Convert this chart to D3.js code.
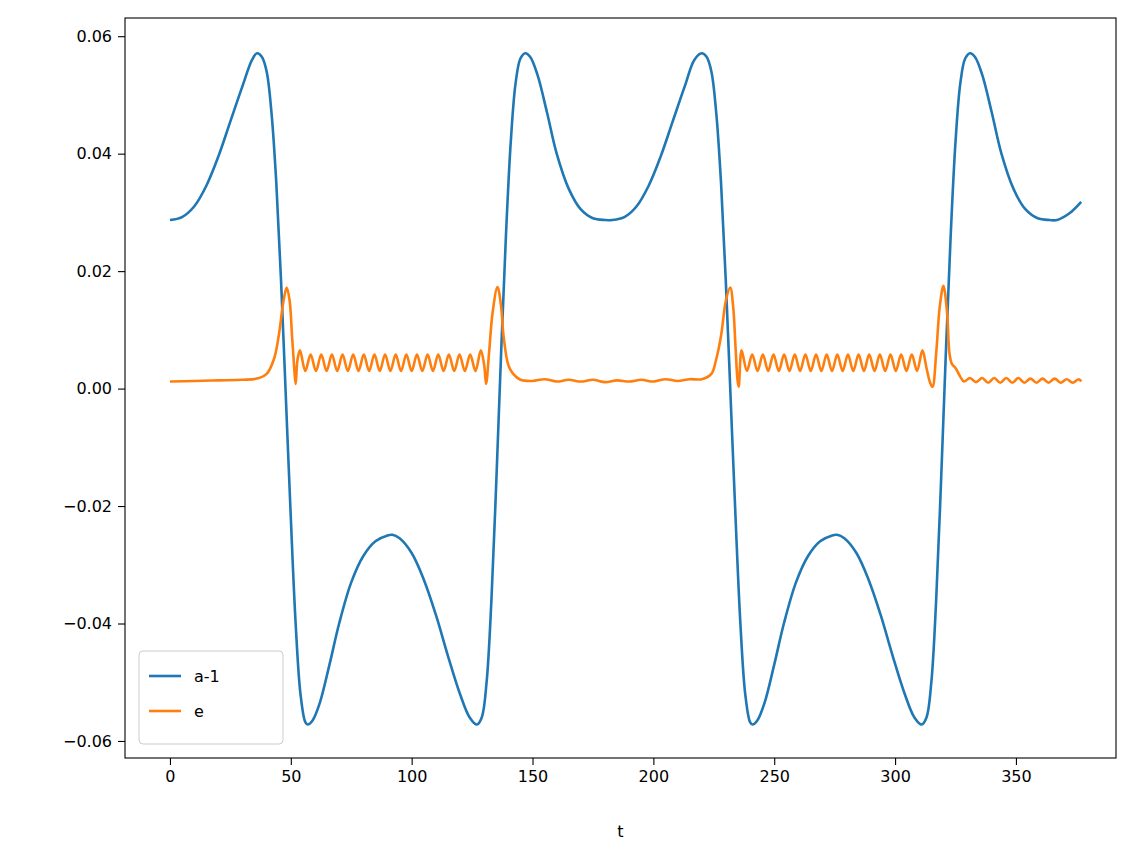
<!DOCTYPE html>
<html><head><meta charset="utf-8">
<script src="https://cdn.jsdelivr.net/npm/d3@7"></script>
<style>body{margin:0;background:#fff}text{font-family:"DejaVu Sans",sans-serif}</style>
</head><body><svg id="c" width="1136" height="865"></svg>
<script>
const xTicks=[0,50,100,150,200,250,300,350];
const yTicks=[-0.06,-0.04,-0.02,0,0.02,0.04,0.06];
const seriesNames=["a-1","e"];
const aT=[0,5,10,15,20,25,30,34,36,38,40,42,44,46,48,50,52,54,56,57,59,62,66,70,75,80,85,90,92,95,100,105,110,115,120,124,127,129,131,133,135,137,139,141,143,145,147,149,152,156,160,165,170,175,180,183,188,193,198,203,208,213,217,220,222,224,226,228,230,232,234,236,238,240,241,243,246,250,254,259,264,269,274,276,279,284,289,294,299,304,308,311,313,315,317,319,321,323,325,327,329,331,333,336,340,344,349,354,359,364,367,372,377];
const aV=[0.0287,0.0292,0.031,0.0345,0.0395,0.0455,0.0515,0.056,0.0571,0.0565,0.054,0.047,0.035,0.018,-0.002,-0.022,-0.040,-0.052,-0.0568,-0.0572,-0.0565,-0.0535,-0.047,-0.040,-0.033,-0.0285,-0.026,-0.025,-0.0249,-0.0255,-0.028,-0.0325,-0.0385,-0.0455,-0.052,-0.056,-0.0572,-0.056,-0.050,-0.036,-0.016,0.006,0.026,0.042,0.052,0.0562,0.0571,0.0565,0.0535,0.047,0.040,0.034,0.0305,0.029,0.0287,0.0287,0.0292,0.031,0.0345,0.0395,0.0455,0.0515,0.056,0.0571,0.0565,0.054,0.047,0.035,0.018,-0.002,-0.022,-0.040,-0.052,-0.0568,-0.0572,-0.0565,-0.0535,-0.047,-0.040,-0.033,-0.0285,-0.026,-0.025,-0.0249,-0.0255,-0.028,-0.0325,-0.0385,-0.0455,-0.052,-0.056,-0.0572,-0.056,-0.050,-0.036,-0.016,0.006,0.026,0.042,0.052,0.0562,0.0571,0.0565,0.0535,0.047,0.040,0.034,0.0305,0.029,0.0287,0.0287,0.0298,0.0318];
const ePts=[[0,0.0012],[10,0.0013],[20,0.0014],[30,0.0015],[36,0.0017],[40,0.0025],[43,0.005],[45,0.009],[47,0.015],[48.3,0.0172],[49.5,0.015],[50.5,0.009],[51.5,0.003],[52,0.0008],[52.8,0.005],[53.8,0.0065],[56,0.003],[58.2,0.0058],[60.4,0.003],[62.6,0.0058],[64.8,0.003],[67,0.0058],[69.2,0.003],[71.4,0.0058],[73.6,0.003],[75.8,0.0058],[78,0.003],[80.2,0.0058],[82.4,0.003],[84.6,0.0058],[86.8,0.003],[89,0.0058],[91.2,0.003],[93.4,0.0058],[95.6,0.003],[97.8,0.0058],[100,0.003],[102.2,0.0058],[104.4,0.003],[106.6,0.0058],[108.8,0.003],[111,0.0058],[113.2,0.003],[115.4,0.0058],[117.6,0.003],[119.8,0.0058],[122,0.003],[124.2,0.0058],[126.4,0.003],[128.6,0.0065],[130,0.004],[130.8,0.0008],[132,0.006],[133.5,0.013],[135.5,0.0173],[137,0.014],[138,0.009],[140,0.004],[142,0.0025],[145,0.0015],[150,0.0013],[155,0.0016],[160,0.0012],[165,0.0015],[170,0.0012],[175,0.0015],[180,0.0011],[185,0.0014],[190,0.0012],[195,0.0015],[200,0.0012],[205,0.0016],[210,0.0013],[215,0.0016],[220,0.0016],[224,0.0025],[226,0.005],[228,0.009],[230,0.015],[231.8,0.0172],[233,0.014],[234,0.007],[234.8,0.0015],[235.3,0.0003],[236.5,0.0065],[238.7,0.003],[240.9,0.0058],[243.1,0.003],[245.3,0.0058],[247.5,0.003],[249.7,0.0058],[251.9,0.003],[254.1,0.0058],[256.3,0.003],[258.5,0.0058],[260.7,0.003],[262.9,0.0058],[265.1,0.003],[267.3,0.0058],[269.5,0.003],[271.7,0.0058],[273.9,0.003],[276.1,0.0058],[278.3,0.003],[280.5,0.0058],[282.7,0.003],[284.9,0.0058],[287.1,0.003],[289.3,0.0058],[291.5,0.003],[293.7,0.0058],[295.9,0.003],[298.1,0.0058],[300.3,0.003],[302.5,0.0058],[304.7,0.003],[306.9,0.0058],[309.1,0.003],[311.3,0.0065],[313,0.0035],[314.5,0.001],[315.5,0.0003],[317,0.006],[318.5,0.014],[320,0.0175],[321.5,0.013],[322.5,0.006],[323.5,0.0042],[325,0.0035],[327,0.002],[328.5,0.0012],[331,0.0018],[333.5,0.0011],[336,0.0018],[338.5,0.001],[341,0.0018],[343.5,0.001],[346,0.0018],[348.5,0.001],[351,0.0018],[353.5,0.001],[356,0.0017],[358.5,0.001],[361,0.0017],[363.5,0.001],[366,0.0017],[368.5,0.001],[371,0.0016],[373.5,0.001],[376,0.0016],[377,0.0012]];
const svg=d3.select("#c");
const L=125,R=1116,T=18,B=758;
const x=d3.scaleLinear().domain([-18.6,391.4]).range([L,R]);
const y=d3.scaleLinear().domain([-0.0629,0.0631]).range([B,T]);
const fmt=d=>(d<0?"\u2212":"")+Math.abs(d).toFixed(2);
const xa=svg.append("g").attr("transform",`translate(0,${B})`).call(d3.axisBottom(x).tickValues(xTicks).tickSize(7).tickPadding(6).tickFormat(d3.format("d")));
const ya=svg.append("g").attr("transform",`translate(${L},0)`).call(d3.axisLeft(y).tickValues(yTicks).tickSize(7).tickPadding(6).tickFormat(fmt));
[xa,ya].forEach(a=>{a.attr("font-size",null).attr("font-family",null);a.select(".domain").remove();a.selectAll("text").style("font-size","16px").attr("fill","#000").style("font-family","DejaVu Sans");a.selectAll("line").attr("stroke","#000").attr("stroke-width",1.1);});
const line=d3.line().x(d=>x(d[0])).y(d=>y(d[1])).curve(d3.curveCatmullRom);
const cols=["#1f77b4","#ff7f0e"];
svg.append("path").attr("d",line(aT.map((t,i)=>[t,aV[i]]))).attr("fill","none").attr("stroke",cols[0]).attr("stroke-width",2.6);
svg.append("path").attr("d",line(ePts)).attr("fill","none").attr("stroke",cols[1]).attr("stroke-width",2.6);
svg.append("rect").attr("x",L).attr("y",T).attr("width",R-L).attr("height",B-T).attr("fill","none").attr("stroke","#000").attr("stroke-width",1.1);
svg.append("text").attr("x",(L+R)/2).attr("y",837).attr("text-anchor","middle").style("font-size","16px").text("t");
const lg=svg.append("g");
lg.append("rect").attr("x",139).attr("y",651).attr("width",144).attr("height",93).attr("rx",4).attr("fill","#fff").attr("fill-opacity",0.8).attr("stroke","#ccc");
seriesNames.forEach((n,i)=>{const yy=676+i*35;
lg.append("line").attr("x1",149).attr("x2",181).attr("y1",yy).attr("y2",yy).attr("stroke",cols[i]).attr("stroke-width",2.6);
lg.append("text").attr("x",194).attr("y",yy+6).style("font-size","16px").text(n);});
</script></body></html>
